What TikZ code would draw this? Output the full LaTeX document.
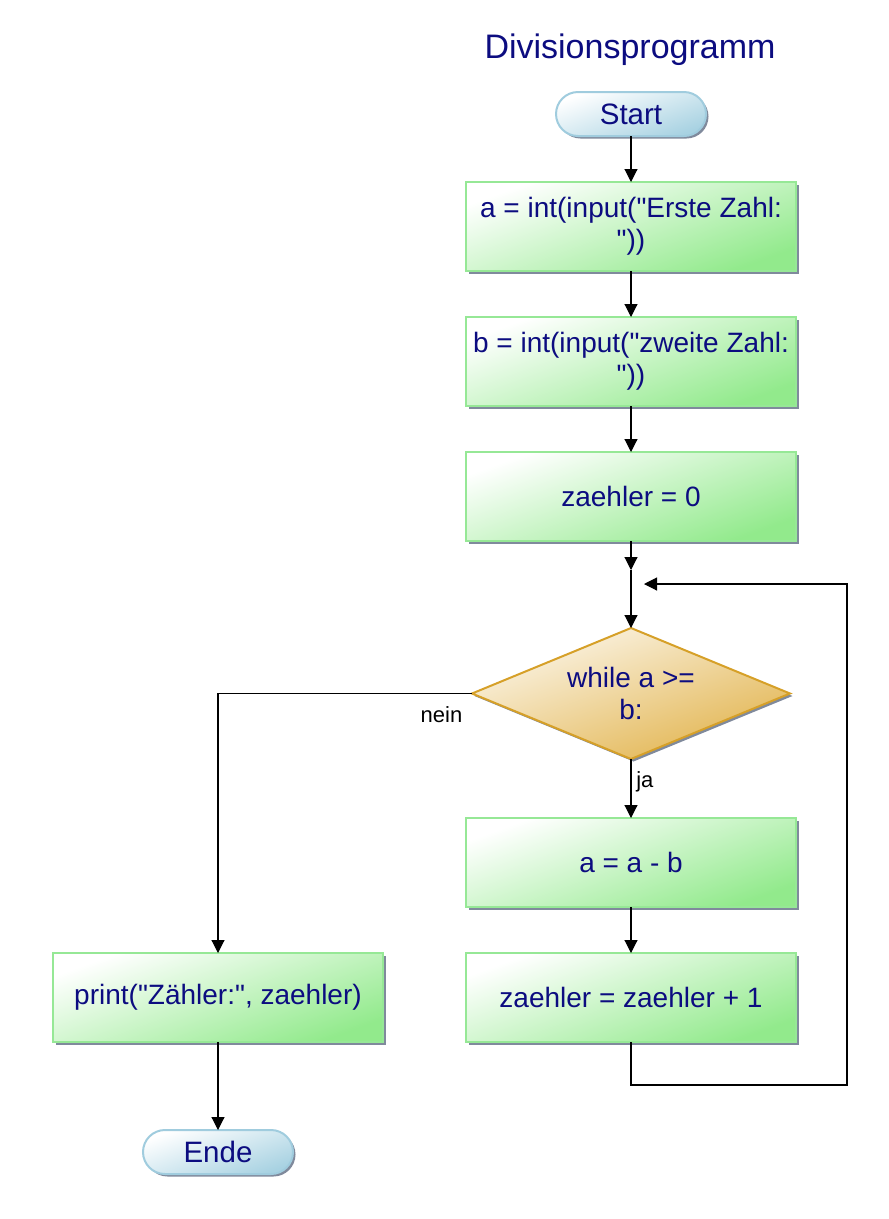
\documentclass[tikz,border=0pt]{standalone}
\usepackage{fontspec}
\setmainfont{Liberation Sans}[Ligatures=TeXOff]
\usetikzlibrary{arrows.meta,positioning,shapes.geometric,shadows}

\definecolor{navytext}{RGB}{12,12,128}
\definecolor{boxgreen}{RGB}{146,234,140}
\definecolor{boxline}{RGB}{150,232,150}
\definecolor{termblue}{RGB}{168,210,226}
\definecolor{termline}{RGB}{160,204,222}
\definecolor{decgold}{RGB}{226,180,78}
\definecolor{decline}{RGB}{214,160,40}
\definecolor{shadowgray}{RGB}{128,138,156}

\begin{document}
\begin{tikzpicture}[->,>={Triangle[length=13pt,width=13pt]},x=1pt,y=1pt,
                    node distance=44pt,line width=1.1pt]
  \tikzstyle{every node}=[text=navytext,outer sep=0pt,
                          font=\fontsize{28}{32}\selectfont]
  \tikzstyle{title}=[font=\fontsize{34}{38}\selectfont,inner sep=0pt]
  \tikzstyle{term}=[rectangle,rounded corners=22pt,minimum width=150pt,
                    minimum height=44pt,draw=termline,line width=2pt,
                    top color=white,bottom color=termblue,shading angle=20,
                    drop shadow={shadow xshift=2.5pt,shadow yshift=-2.5pt,
                                 fill=shadowgray,opacity=1},
                    font=\fontsize{29.5}{34}\selectfont]
  \tikzstyle{process}=[rectangle,minimum width=330pt,minimum height=89pt,
                       inner sep=2pt,align=center,draw=boxline,line width=2pt,
                       top color=white,bottom color=boxgreen,shading angle=20,
                       drop shadow={shadow xshift=2.5pt,shadow yshift=-2.5pt,
                                    fill=shadowgray,opacity=1}]
  \tikzstyle{decision}=[diamond,aspect=2.4,minimum width=318pt,
                        minimum height=131pt,inner sep=0pt,align=center,
                        draw=decline,line width=2pt,
                        top color=decgold!12!white,bottom color=decgold,
                        shading angle=20,
                        drop shadow={shadow xshift=2.5pt,shadow yshift=-2.5pt,
                                     fill=shadowgray,opacity=1}]
  \tikzstyle{lbl}=[text=black,font=\fontsize{22}{26}\selectfont]

  \useasboundingbox (0,0) rectangle (889,-1219);

  \node[title]   (T) at (630,-50)           {Divisionsprogramm};
  \node[term]    (S) at (631,-114)          {Start};
  \node[process] (A) [below=46pt of S]      {a = int(input("Erste Zahl:\\"))};
  \node[process] (B) [below=46pt of A]      {b = int(input("zweite Zahl:\\"))};
  \node[process] (C) [below=46pt of B]      {zaehler = 0};
  \coordinate[below=29pt of C] (J);
  \coordinate[below=14pt of J] (M);
  \node[decision](D) [below=58pt of J]      {while a >=\\b:};
  \node[process] (E) [below=59pt of D]      {a = a - b};
  \node[process] (F) [below=46pt of E]      {zaehler = zaehler + 1};
  \node[process] (P) [left=83pt of F]       {print("Zähler:", zaehler)};
  \node[term]    (Z) [below=88pt of P]      {Ende};
  \coordinate[below=43pt of F] (Fb);
  \coordinate[right=216pt of M] (Mr);
  \coordinate[right=13pt of M] (Mt);

  \path (S) edge (A)
        (A) edge (B)
        (B) edge (C)
        (C) edge (J)
        (J) edge (D)
        (D) edge node[lbl,pos=0.38,right=2pt] {ja} (E)
        (E) edge (F)
        (P) edge (Z);
  \draw (D.west) -| node[lbl,pos=0.06,below=10pt] {nein} (P.north);
  \draw (F) -- (Fb) -| (Mr) -- (Mt);
\end{tikzpicture}
\end{document}
